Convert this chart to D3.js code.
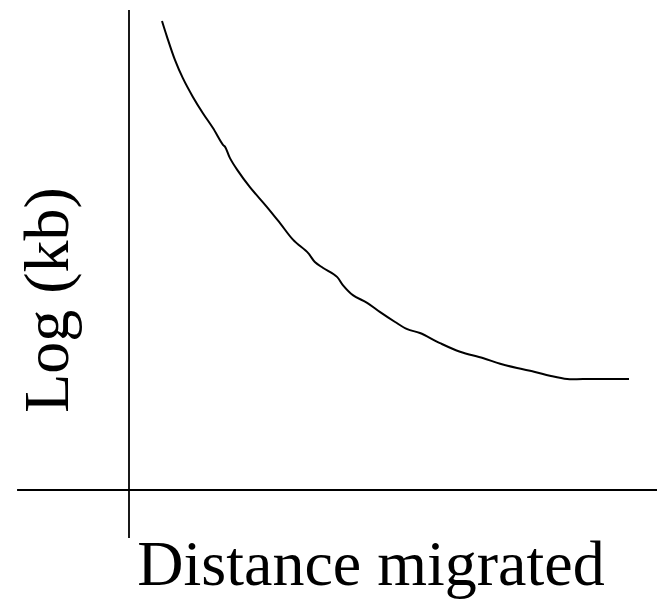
<!DOCTYPE html>
<html><head><meta charset="utf-8">
<script src="https://cdn.jsdelivr.net/npm/d3@7"></script>
<style>html,body{margin:0;padding:0;background:#fff;}</style>
</head><body>
<script>
const distance = [0.625,0.72,0.87,1.02,1.21,1.40,1.59,1.78,1.82,1.91,2.05,2.29,2.61,2.86,3.11,3.39,3.52,3.67,3.94,4.05,4.24,4.51,4.75,5.04,5.27,5.51,5.89,6.27,6.70,7.03,7.35,7.69,7.97,8.30,8.60,9.47];
const logKb = [9.77,9.44,8.96,8.58,8.19,7.85,7.54,7.19,7.15,6.92,6.67,6.31,5.90,5.56,5.21,4.94,4.75,4.63,4.44,4.27,4.06,3.90,3.71,3.50,3.35,3.27,3.06,2.88,2.75,2.63,2.54,2.46,2.38,2.31,2.31,2.31];
const xLabel = "Distance migrated";
const yLabel = "Log (kb)";

const W = 669, H = 604;
const svg = d3.select("body").append("svg").attr("width", W).attr("height", H);
const x = d3.scaleLinear().domain([0, 10]).range([129, 657]);
const y = d3.scaleLinear().domain([0, 10]).range([490, 10]);

// axes
svg.append("line").attr("x1", x(0)).attr("x2", x(0)).attr("y1", y(10)).attr("y2", y(-1))
  .attr("stroke", "#000").attr("stroke-width", 1.8);
svg.append("line").attr("x1", x(-2.12)).attr("x2", x(10)).attr("y1", y(0)).attr("y2", y(0))
  .attr("stroke", "#000").attr("stroke-width", 1.8);

const pts = distance.map((d, i) => [d, logKb[i]]);
const line = d3.line().x(d => x(d[0])).y(d => y(d[1])).curve(d3.curveCatmullRom);
svg.append("path").attr("d", line(pts)).attr("fill", "none").attr("stroke", "#000").attr("stroke-width", 2);

svg.append("text").attr("x", 371).attr("y", 585).attr("text-anchor", "middle")
  .attr("font-family", "Liberation Serif, Times New Roman, serif").attr("font-size", 64).text(xLabel);
svg.append("text").attr("transform", "translate(68,300) rotate(-90)").attr("text-anchor", "middle")
  .attr("font-family", "Liberation Serif, Times New Roman, serif").attr("font-size", 64).text(yLabel);
</script>
</body></html>
